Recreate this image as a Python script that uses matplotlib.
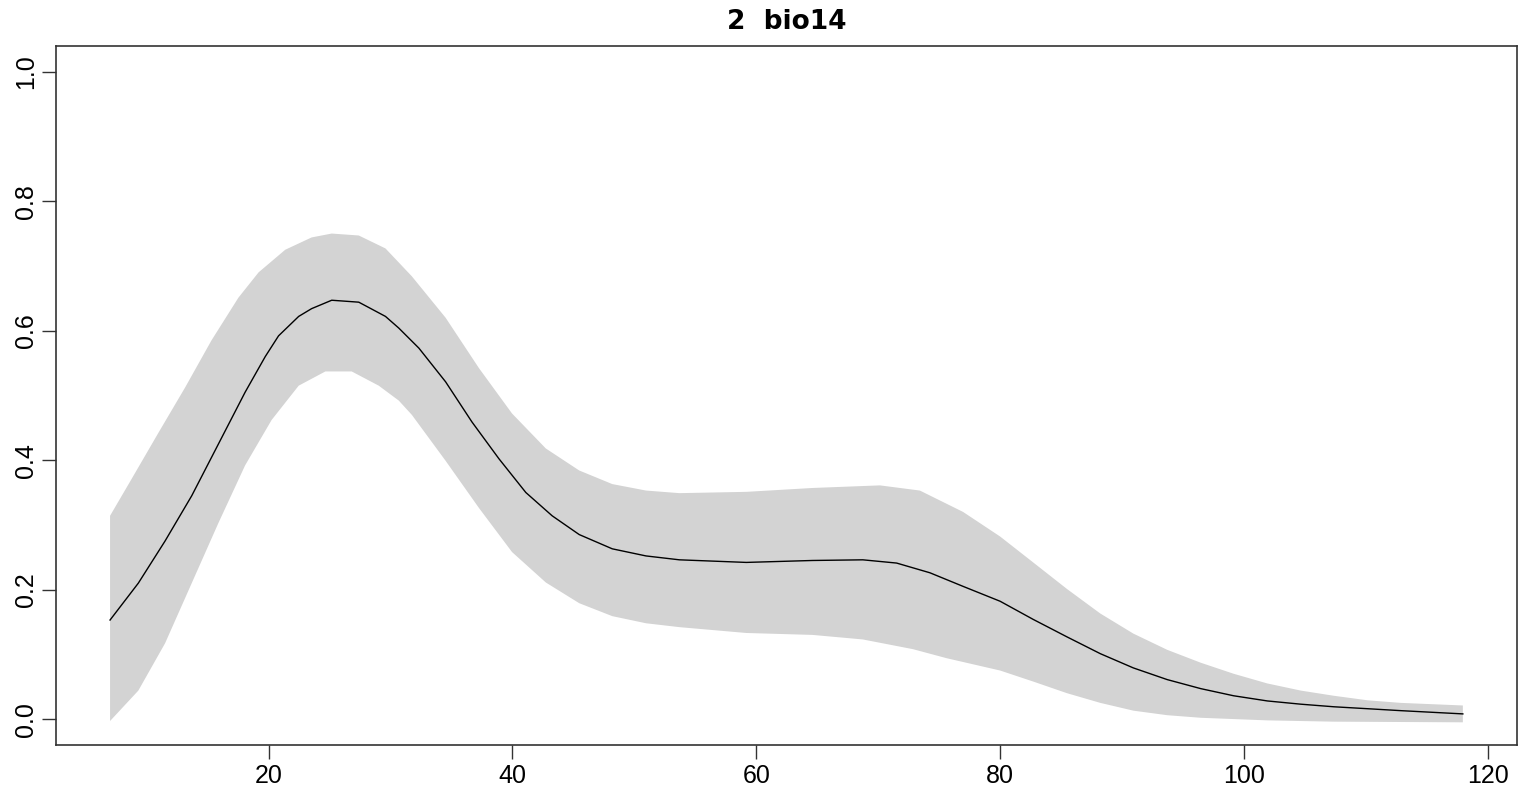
import numpy as np
import matplotlib.pyplot as plt

plt.rcParams['font.family'] = ['Liberation Sans', 'DejaVu Sans']

# fitted response
fit_x = [7.0, 9.32, 11.51, 13.70, 15.89, 18.08, 19.73, 20.82, 22.47, 23.53, 25.18, 27.40,
         29.59, 30.68, 32.33, 34.52, 36.68, 38.90, 41.10, 43.26, 45.48, 48.19, 50.96, 53.70,
         59.18, 64.63, 68.74, 71.51, 74.24, 76.96, 80.0, 82.71, 85.48, 88.22, 90.93, 93.70,
         96.46, 99.15, 101.92, 104.66, 107.37, 110.14, 112.87, 117.95]
fit = [0.153, 0.210, 0.275, 0.345, 0.425, 0.505, 0.560, 0.592, 0.622, 0.634, 0.647, 0.644,
       0.622, 0.604, 0.573, 0.521, 0.459, 0.402, 0.350, 0.314, 0.285, 0.263, 0.252, 0.246,
       0.242, 0.245, 0.246, 0.241, 0.226, 0.205, 0.182, 0.154, 0.127, 0.101, 0.079, 0.061,
       0.047, 0.036, 0.028, 0.023, 0.019, 0.016, 0.013, 0.008]

# upper confidence limit
up_x = [7.0, 8.74, 10.96, 13.15, 15.32, 17.53, 19.18, 21.37, 23.53, 25.18, 27.40, 29.59,
        31.75, 34.52, 37.26, 39.97, 42.74, 45.48, 48.19, 50.96, 53.70, 59.18, 64.63, 70.14,
        73.42, 76.96, 80.0, 82.71, 85.48, 88.22, 90.93, 93.70, 96.46, 99.15, 101.92, 104.66,
        107.37, 110.14, 112.87, 117.95]
upper = [0.314, 0.370, 0.442, 0.512, 0.585, 0.651, 0.690, 0.725, 0.744, 0.750, 0.747, 0.727,
         0.684, 0.620, 0.542, 0.472, 0.418, 0.384, 0.363, 0.353, 0.349, 0.351, 0.357, 0.361,
         0.353, 0.320, 0.282, 0.242, 0.201, 0.163, 0.132, 0.107, 0.087, 0.070, 0.055, 0.044,
         0.036, 0.029, 0.025, 0.021]

# lower confidence limit
lo_x = [7.0, 9.32, 11.51, 13.70, 15.89, 18.08, 20.25, 22.47, 24.66, 26.82, 29.04, 30.68,
        31.75, 34.52, 37.26, 39.97, 42.74, 45.48, 48.19, 50.96, 53.70, 59.18, 64.63, 68.74,
        72.85, 75.62, 80.0, 82.71, 85.48, 88.22, 90.93, 93.70, 96.46, 101.92, 107.37, 117.95]
lower = [-0.003, 0.044, 0.117, 0.210, 0.303, 0.392, 0.462, 0.515, 0.537, 0.537, 0.515, 0.492,
         0.470, 0.399, 0.326, 0.258, 0.211, 0.179, 0.159, 0.148, 0.142, 0.133, 0.130, 0.123,
         0.108, 0.094, 0.075, 0.058, 0.040, 0.025, 0.013, 0.006, 0.002, -0.002, -0.004, -0.005]

xticks = [20, 40, 60, 80, 100, 120]
yticks = [0.0, 0.2, 0.4, 0.6, 0.8, 1.0]

fig = plt.figure(figsize=(15.2, 7.9), dpi=100)
ax = fig.add_axes([0.0368, 0.057, 0.9612, 0.885])

# band as one polygon: upper edge left to right, lower edge back
ax.fill(np.r_[up_x, lo_x[::-1]], np.r_[upper, lower[::-1]], color='#d3d3d3', linewidth=0)
ax.plot(fit_x, fit, color='black', linewidth=1.0)

span = fit_x[-1] - fit_x[0]
ax.set_xlim(fit_x[0] - 0.04 * span, fit_x[-1] + 0.04 * span)
ax.set_ylim(-0.04, 1.04)
ax.set_xticks(xticks)
ax.set_xticklabels([str(v) for v in xticks])
ax.set_yticks(yticks)
ax.set_yticklabels(['%.1f' % v for v in yticks], rotation=90, va='center')
ax.tick_params(length=10, width=1, labelsize=18, color='#333333')
ax.tick_params(axis='x', pad=4)
ax.tick_params(axis='y', pad=3)
for s in ax.spines.values():
    s.set_linewidth(1.2)
    s.set_color('#333333')

ax.set_title('2  bio14', fontsize=19, fontweight='bold', family='DejaVu Sans', pad=12)

fig.savefig('out.png', dpi=100)
